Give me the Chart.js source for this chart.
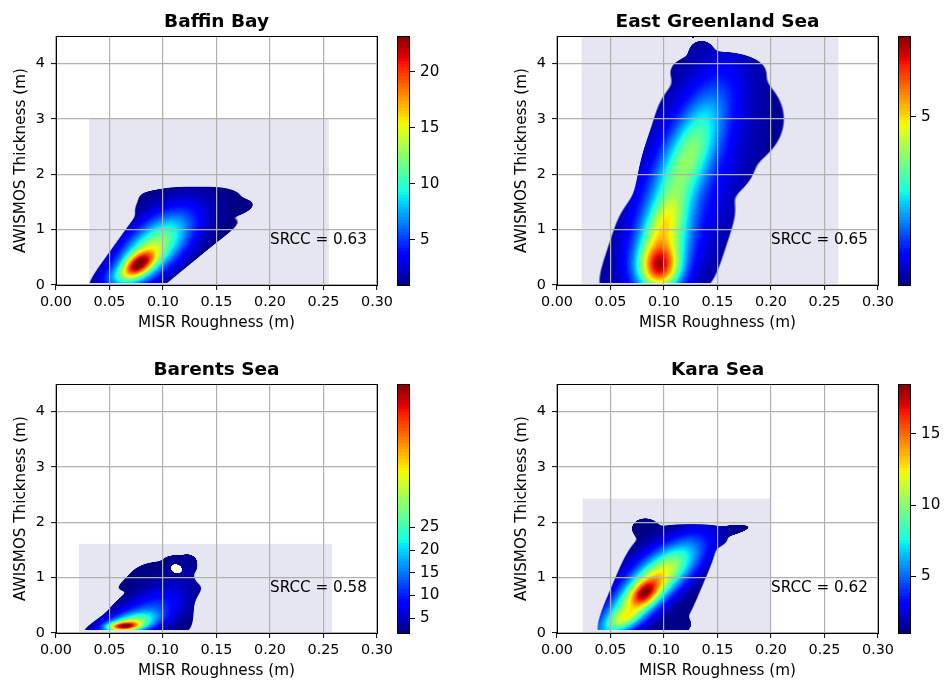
<!DOCTYPE html>
<html>
<head>
<meta charset="utf-8">
<script src="https://cdn.jsdelivr.net/npm/chart.js@4.4.0/dist/chart.umd.min.js"></script>
<style>
  html, body { margin: 0; padding: 0; background: #fff; overflow: hidden; width: 949px; height: 684px; }
  canvas { position: absolute; }
</style>
</head>
<body>
<script>
// regions, one panel each
const regionNames = ['Baffin Bay', 'East Greenland Sea', 'Barents Sea', 'Kara Sea'];
const srccValues = [0.63, 0.65, 0.58, 0.62];
const srccAt = [0.20, 0.75];

const xTicks = [0, 0.05, 0.10, 0.15, 0.20, 0.25, 0.30];
const yTicks = [0, 1, 2, 3, 4];
const xLimits = [0, 0.30];
const yLimits = [0, 4.5];

// extent of each KDE grid [xmin, xmax, ymin, ymax] (the shaded box)
const gridBoxes = [
  [0.031, 0.255, 0, 3.0],
  [0.023, 0.263, 0, 4.8],
  [0.0215, 0.258, 0, 1.61],
  [0.024, 0.200, 0, 2.43]
];
// lowest y the density reaches in each region
const densityFloor = [0.04, 0.03, 0.06, 0.05];

// colour bar limits and ticks
const barRanges = [[0.94, 23.2], [0.3, 7.25], [1.7, 56.7], [1.04, 18.5]];
const barTicks = [[5, 10, 15, 20], [5], [5, 10, 15, 20, 25], [5, 10, 15]];

// outline of the lowest density level: [x, y, halfX, halfY, shear (dx per dy), weight, norm]
const baffinOutline = [
  [0.094, 0.75, 0.039, 1.00, 0.037, 1, 4],
  [0.125, 1.50, 0.045, 0.20, 0.0, 1, 4],
  [0.163, 1.40, 0.018, 0.14, 0.05, 1, 2],
  [0.115, 0.70, 0.030, 0.50, 0.07, 1, 4]
];
const greenlandOutline = [
  [0.103, 0.70, 0.056, 1.00, 0.017, 1, 4],
  [0.153, 3.00, 0.060, 0.95, 0.0, 1, 2],
  [0.098, 2.20, 0.020, 0.80, 0.012, 1, 2],
  [0.140, 1.90, 0.035, 0.35, 0.03, 1, 2],
  [0.150, 3.90, 0.040, 0.30, 0.0, 1, 2],
  [0.135, 4.22, 0.011, 0.19, 0.0, 1, 2],
  [0.127, 4.52, 0.003, 0.05, 0.0, 1, 2]
];
const barentsOutline = [
  [0.106, 0.60, 0.023, 0.63, 0.0, 1, 4],
  [0.079, 0.40, 0.030, 0.45, 0.075, 1, 4],
  [0.075, 0.55, 0.018, 0.25, 0.04, 1, 2],
  [0.090, 1.00, 0.025, 0.24, 0.05, 1, 4],
  [0.116, 1.25, 0.014, 0.15, 0.0, 1, 3],
  [0.123, 1.30, 0.006, 0.10, 0.0, 1, 2],
  [0.1125, 1.17, 0.0045, 0.07, 0.0, -0.7, 2]
];
const karaOutline = [
  [0.0935, 0.85, 0.043, 1.05, 0.022, 1, 4],
  [0.158, 1.84, 0.016, 0.11, 0.12, 1, 2],
  [0.082, 1.90, 0.011, 0.16, 0.0, 1, 2],
  [0.128, 1.75, 0.028, 0.17, 0.0, 1, 3],
  [0.116, 0.15, 0.008, 0.12, 0.0, 1, 2]
];

// density peaks above the lowest level: [x, y, sdX, sdY, shear, peak, norm]
const baffinPeaks = [
  [0.077, 0.37, 0.009, 0.16, 0.030, 13, 2],
  [0.085, 0.52, 0.018, 0.40, 0.035, 9.5, 2],
  [0.102, 0.95, 0.021, 0.40, 0.030, 4.5, 2],
  [0.062, 0.15, 0.012, 0.12, 0.030, 2.5, 2]
];
const greenlandPeaks = [
  [0.096, 0.30, 0.013, 0.28, 0.0, 4.0, 2],
  [0.100, 0.75, 0.016, 0.50, 0.010, 2.8, 2],
  [0.122, 2.30, 0.016, 0.80, 0.020, 2.7, 2],
  [0.120, 1.80, 0.035, 1.60, 0.015, 1.0, 2],
  [0.102, 1.20, 0.010, 0.30, 0.020, 0.8, 2]
];
const barentsPeaks = [
  [0.063, 0.12, 0.010, 0.055, 0.03, 32, 2],
  [0.070, 0.18, 0.015, 0.12, 0.05, 20, 2],
  [0.082, 0.32, 0.019, 0.26, 0.05, 10, 2],
  [0.100, 0.70, 0.018, 0.45, 0.04, 2.5, 2]
];
const karaPeaks = [
  [0.082, 0.72, 0.008, 0.16, 0.020, 6, 2],
  [0.080, 0.68, 0.016, 0.55, 0.045, 10, 2],
  [0.100, 1.20, 0.022, 0.38, 0.040, 4, 2],
  [0.063, 0.25, 0.009, 0.13, 0.040, 3.5, 2]
];
const regionOutlines = [baffinOutline, greenlandOutline, barentsOutline, karaOutline];
const regionPeaks = [baffinPeaks, greenlandPeaks, barentsPeaks, karaPeaks];

const FONT = '"DejaVu Sans"';
const tickFont = { family: FONT, size: 14.4 };
const labelFont = { family: FONT, size: 15.2 };

// matplotlib 'jet' segment data
const jetR = [[0, 0], [0.35, 0], [0.66, 1], [0.89, 1], [1, 0.5]];
const jetG = [[0, 0], [0.125, 0], [0.375, 1], [0.64, 1], [0.91, 0], [1, 0]];
const jetB = [[0, 0.5], [0.11, 1], [0.34, 1], [0.65, 0], [1, 0]];
function seg(pts, t) {
  for (let k = 1; k < pts.length; k++) {
    if (t <= pts[k][0]) {
      const [x0, y0] = pts[k - 1], [x1, y1] = pts[k];
      return y0 + (y1 - y0) * (t - x0) / (x1 - x0);
    }
  }
  return pts[pts.length - 1][1];
}
function jet(t) {
  t = Math.min(1, Math.max(0, t));
  return [seg(jetR, t), seg(jetG, t), seg(jetB, t)].map(v => Math.round(v * 255));
}

function blobValue(b, x, y) {
  const [cx, cy, sx, sy, shear, a, n] = b;
  const v = (y - cy) / sy;
  const u = (x - cx - shear * (y - cy)) / sx;
  const r2 = n === 2 ? u * u + v * v
    : Math.pow(Math.pow(Math.abs(u), n) + Math.pow(Math.abs(v), n), 2 / n);
  return a * Math.exp(-0.5 * r2);
}

const LEVELS = 80;
const EDGE = Math.exp(-0.5);

// soft union of the outline pieces, minus any pockets
function outlineValue(outline, x, y) {
  let acc = 0, pocket = 0;
  for (const b of outline) {
    const s = blobValue(b, x, y);
    if (b[5] > 0) acc += s * s * s * s; else pocket += s;
  }
  const union = Math.pow(acc, 0.25);
  return [union, union + pocket];
}

function densityImage(chart, o) {
  const { left, top, right, bottom } = chart.chartArea;
  const xs = chart.scales.x, ys = chart.scales.y;
  const w = Math.round(right - left), h = Math.round(bottom - top);
  const off = document.createElement('canvas');
  off.width = w; off.height = h;
  const octx = off.getContext('2d');
  const img = octx.createImageData(w, h);
  const [lo, hi] = o.range;
  const [bx0, bx1, , by1] = o.box;
  const by0 = o.floor;
  for (let j = 0; j < h; j++) {
    const yv = ys.getValueForPixel(top + j + 0.5);
    if (yv < by0 || yv > by1) continue;
    for (let i = 0; i < w; i++) {
      const xv = xs.getValueForPixel(left + i + 0.5);
      if (xv < bx0 || xv > bx1) continue;
      const [union, s] = outlineValue(o.outline, xv, yv);
      const p = (j * w + i) * 4;
      if (s < EDGE) {
        if (union >= EDGE) {
          img.data[p] = 255; img.data[p + 1] = 255; img.data[p + 2] = 255; img.data[p + 3] = 255;
        }
        continue;
      }
      let v = lo;
      for (const b of o.peaks) v += blobValue(b, xv, yv);
      let t = (v - lo) / (hi - lo);
      t = Math.min(1, Math.floor(t * LEVELS) / LEVELS + 0.5 / LEVELS);
      const c = jet(t);
      const alpha = Math.min(1, (s - EDGE) / 0.02);
      img.data[p] = c[0]; img.data[p + 1] = c[1]; img.data[p + 2] = c[2];
      img.data[p + 3] = Math.round(255 * alpha);
    }
  }
  octx.putImageData(img, 0, 0);
  return off;
}

const densityPlugin = {
  id: 'density',
  beforeDraw(chart, args, o) {
    const ctx = chart.ctx;
    const xs = chart.scales.x, ys = chart.scales.y;
    const { left, top } = chart.chartArea;
    const [bx0, bx1, , by1] = o.box;
    const yTop = Math.max(ys.getPixelForValue(by1), ys.getPixelForValue(yLimits[1]));
    ctx.save();
    ctx.fillStyle = '#e6e6f2';
    ctx.fillRect(xs.getPixelForValue(bx0), yTop,
      xs.getPixelForValue(bx1) - xs.getPixelForValue(bx0),
      ys.getPixelForValue(0) - yTop);
    if (!chart.$densityImg) chart.$densityImg = densityImage(chart, o);
    ctx.drawImage(chart.$densityImg, left, top);
    ctx.restore();
  },
  afterDraw(chart, args, o) {
    const ctx = chart.ctx;
    const { left, top, right, bottom } = chart.chartArea;
    const xs = chart.scales.x, ys = chart.scales.y;
    ctx.save();
    ctx.strokeStyle = '#000';
    ctx.lineWidth = 1;
    ctx.strokeRect(left + 0.5, top + 0.5, right - left, bottom - top);
    ctx.fillStyle = '#000';
    ctx.textAlign = 'center';
    ctx.textBaseline = 'alphabetic';
    ctx.font = `bold 18.5px ${FONT}`;
    ctx.fillText(o.title, (left + right) / 2, top - 9);
    ctx.textAlign = 'left';
    ctx.font = `15.2px ${FONT}`;
    ctx.fillText('SRCC = ' + o.srcc.toFixed(2), xs.getPixelForValue(srccAt[0]), ys.getPixelForValue(srccAt[1]));
    ctx.restore();
  }
};

const colorbarPlugin = {
  id: 'colorbar',
  beforeDraw(chart, args, o) {
    const ctx = chart.ctx;
    const { left, top, right, bottom } = chart.chartArea;
    const ys = chart.scales.y;
    const [lo, hi] = o.range;
    for (let py = Math.floor(top); py < bottom; py++) {
      const v = ys.getValueForPixel(py + 0.5);
      let t = (v - lo) / (hi - lo);
      t = Math.min(1, Math.floor(t * LEVELS) / LEVELS + 0.5 / LEVELS);
      const c = jet(t);
      ctx.fillStyle = `rgb(${c[0]},${c[1]},${c[2]})`;
      ctx.fillRect(left, py, right - left, 1);
    }
  },
  afterDraw(chart) {
    const ctx = chart.ctx;
    const { left, top, right, bottom } = chart.chartArea;
    ctx.save();
    ctx.strokeStyle = '#000';
    ctx.lineWidth = 1;
    ctx.strokeRect(left + 0.5, top + 0.5, right - left - 1, bottom - top);
    ctx.restore();
  }
};

function addCanvas(x, y, w, h) {
  const c = document.createElement('canvas');
  c.width = w; c.height = h;
  c.style.left = x + 'px'; c.style.top = y + 'px';
  c.style.width = w + 'px'; c.style.height = h + 'px';
  document.body.appendChild(c);
  return c;
}

const panelOrigins = [[0, 0], [501, 0], [0, 348], [501, 348]];

regionNames.forEach((name, i) => {
  const [ox, oy] = panelOrigins[i];
  const canvas = addCanvas(ox, oy, 401, 340);
  new Chart(canvas, {
    type: 'scatter',
    data: { datasets: [] },
    plugins: [densityPlugin],
    options: {
      animation: false,
      responsive: false,
      events: [],
      layout: { padding: { top: 36, right: 24, left: 0, bottom: 0 } },
      plugins: {
        legend: { display: false },
        tooltip: { enabled: false },
        density: {
          title: name, srcc: srccValues[i], box: gridBoxes[i], floor: densityFloor[i],
          range: barRanges[i], outline: regionOutlines[i], peaks: regionPeaks[i]
        }
      },
      scales: {
        x: {
          type: 'linear', min: xLimits[0], max: xLimits[1],
          afterBuildTicks: s => { s.ticks = xTicks.map(v => ({ value: v })); },
          afterFit: s => { s.height = 55; s.paddingLeft = 0; s.paddingRight = 0; },
          ticks: { callback: v => v.toFixed(2), font: tickFont, color: '#000', padding: 4, maxRotation: 0, autoSkip: false },
          grid: { color: '#b0b0b0', lineWidth: 1.2, tickColor: '#000', tickLength: 5, tickWidth: 1 },
          border: { display: false },
          title: { display: true, text: 'MISR Roughness (m)', font: labelFont, color: '#000', padding: { top: 0, bottom: 8 } }
        },
        y: {
          type: 'linear', min: yLimits[0], max: yLimits[1],
          afterBuildTicks: s => { s.ticks = yTicks.map(v => ({ value: v })); },
          afterFit: s => { s.width = 56; s.paddingTop = 0; s.paddingBottom = 0; },
          ticks: { font: tickFont, color: '#000', padding: 6 },
          grid: { color: '#b0b0b0', lineWidth: 1.2, tickColor: '#000', tickLength: 5, tickWidth: 1 },
          border: { display: false },
          title: { display: true, text: 'AWISMOS Thickness (m)', font: labelFont, color: '#000', padding: { top: 12, bottom: 0 } }
        }
      }
    }
  });

  const cb = addCanvas(ox + 397, oy, 58, 340);
  new Chart(cb, {
    type: 'scatter',
    data: { datasets: [] },
    plugins: [colorbarPlugin],
    options: {
      animation: false,
      responsive: false,
      events: [],
      layout: { padding: { top: 36, bottom: 55, left: 0, right: 0 } },
      plugins: {
        legend: { display: false },
        tooltip: { enabled: false },
        colorbar: { range: barRanges[i] }
      },
      scales: {
        x: { display: false, min: 0, max: 1 },
        y: {
          position: 'right', min: barRanges[i][0], max: barRanges[i][1],
          afterBuildTicks: s => { s.ticks = barTicks[i].map(v => ({ value: v })); },
          afterFit: s => { s.width = 45; s.paddingTop = 0; s.paddingBottom = 0; },
          ticks: { font: labelFont, color: '#000', padding: 5 },
          grid: { drawOnChartArea: false, drawTicks: true, tickLength: 5, tickColor: '#000', tickWidth: 1 },
          border: { display: false }
        }
      }
    }
  });
});
</script>
</body>
</html>
